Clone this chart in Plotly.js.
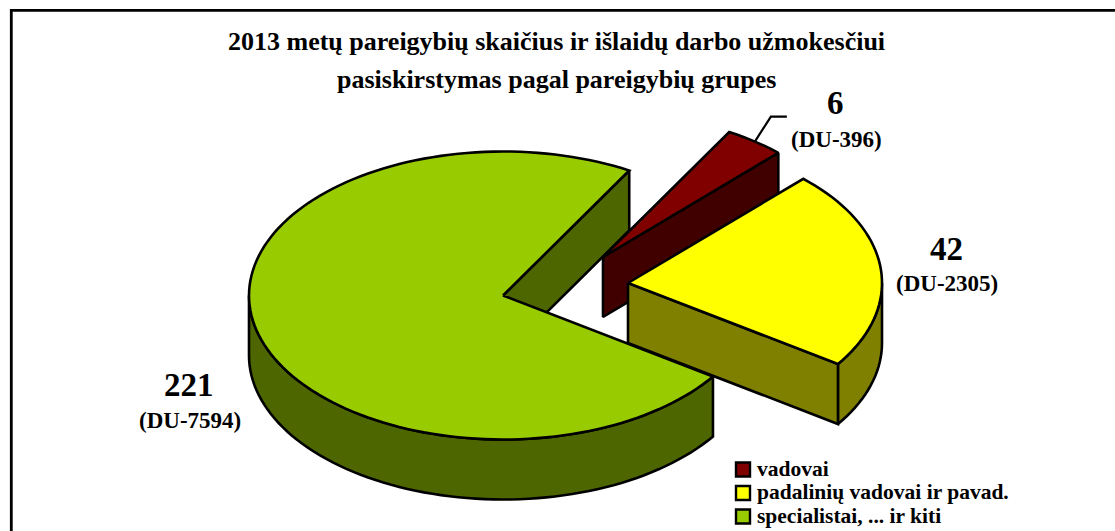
<!DOCTYPE html>
<html><head><meta charset="utf-8">
<script src="https://cdn.plot.ly/plotly-3.0.1.min.js"></script>
<style>html,body{margin:0;padding:0;background:#fff}#c{width:1115px;height:531px}</style>
</head><body><div id="c"></div>
<script>
const categories = ['vadovai', 'padalinių vadovai ir pavad.', 'specialistai, ... ir kiti'];
const positions = [6, 42, 221];
const wages = [396, 2305, 7594];
const topColors = ['#800000', '#FFFF00', '#99CC00'];
const sideColors = ['#400000', '#808000', '#4D6600'];
const titleLines = ['2013 metų pareigybių skaičius ir išlaidų darbo užmokesčiui', 'pasiskirstymas pagal pareigybių grupes'];

// pie geometry (pixel-sized axes)
const RX = 254, RY = 144, DEPTH = 60, START = 60.2;
const centres = [[603, 257], [628, 283], [503, 295.5]];
const total = wages.reduce((a, b) => a + b, 0);
const rad = d => d * Math.PI / 180;
const pt = (c, a, dz = 0) => [c[0] + RX * Math.cos(rad(a)), c[1] - RY * Math.sin(rad(a)) + dz];
function arc(c, a0, a1, dz) { // a0 > a1, clockwise
  const out = [], n = Math.max(2, Math.ceil((a0 - a1) / 2));
  for (let i = 0; i <= n; i++) out.push(pt(c, a0 + (a1 - a0) * i / n, dz));
  return out;
}
const traces = [];
function poly(points, fill) {
  const closed = points.concat([points[0]]);
  traces.push({ type: 'scatter', mode: 'lines', x: closed.map(p => p[0]), y: closed.map(p => p[1]),
    fill: 'toself', fillcolor: fill, line: { color: '#000', width: 2.6, simplify: false, shape: 'linear' },
    hoverinfo: 'skip', showlegend: false });
}
function outerWall(c, a0, a1, fill) {
  poly(arc(c, a0, a1, 0).concat(arc(c, a0, a1, DEPTH).reverse()), fill);
}
function radialWall(c, a, fill) {
  const e = pt(c, a);
  poly([c, e, [e[0], e[1] + DEPTH], [c[0], c[1] + DEPTH]], fill);
}
function topFace(c, a0, a1, fill) { poly([c].concat(arc(c, a0, a1, 0)), fill); }

let a = START;
const spans = wages.map(v => { const s = [a, a - v / total * 360]; a = s[1]; return s; });

// specialists (draw first: red tip overlaps it)
radialWall(centres[2], spans[2][1] + 360, sideColors[2]);
outerWall(centres[2], spans[2][0], -180, sideColors[2]);
topFace(centres[2], spans[2][0], spans[2][1], topColors[2]);
// managers
radialWall(centres[0], spans[0][1], sideColors[0]);
topFace(centres[0], spans[0][0], spans[0][1], topColors[0]);
// department heads
outerWall(centres[1], 0, spans[1][1], sideColors[1]);
radialWall(centres[1], spans[1][1], sideColors[1]);
topFace(centres[1], spans[1][0], spans[1][1], topColors[1]);

// leader line of the small slice
const mid = pt(centres[0], (spans[0][0] + spans[0][1]) / 2);
traces.push({ type: 'scatter', mode: 'lines', x: [mid[0], mid[0] + 16, mid[0] + 32], y: [mid[1], mid[1] - 25, mid[1] - 25],
  line: { color: '#000', width: 2.2 }, hoverinfo: 'skip', showlegend: false });

const serif = 'Liberation Serif, Times New Roman, serif';
const txt = (x, y, text, size, anchor) => ({ xref: 'x', yref: 'y', x, y, text, showarrow: false, xanchor: anchor || 'center', yanchor: 'middle',
  font: { family: serif, size, color: '#000' } });
const b = s => '<b>' + s + '</b>';

// legend swatches + labels
const legendY = [469.5, 493, 516.5];
categories.forEach((name, i) => traces.push({ type: 'scatter', mode: 'markers', x: [743], y: [legendY[i]], name,
  marker: { symbol: 'square', size: 14, color: topColors[i], line: { color: '#000', width: 2.4 } }, hoverinfo: 'skip', showlegend: false }));

const annotations = [
  txt(556, 41, b(titleLines[0]), 26), txt(556, 79, b(titleLines[1]), 26),
  txt(835, 103, b(positions[0]), 33), txt(836, 139, b('(DU-' + wages[0] + ')'), 23),
  txt(946, 249, b(positions[1]), 33), txt(947, 283, b('(DU-' + wages[1] + ')'), 23),
  txt(189, 385, b(positions[2]), 33), txt(190, 420, b('(DU-' + wages[2] + ')'), 23)
].concat(categories.map((name, i) => txt(755, legendY[i] - 1, b(name), 21.5, 'left')));

const layout = {
  width: 1115, height: 531, margin: { l: 0, r: 0, t: 0, b: 0, autoexpand: false }, paper_bgcolor: '#fff', plot_bgcolor: '#fff',
  xaxis: { range: [0, 1115], visible: false, fixedrange: true },
  yaxis: { range: [531, 0], visible: false, fixedrange: true },
  showlegend: false,
  annotations,
  shapes: [{ type: 'rect', xref: 'x', yref: 'y', x0: 11.3, x1: 1130, y0: 10.3, y1: 545, line: { color: '#000', width: 2.8 } }]
};
Plotly.newPlot('c', traces, layout, { displayModeBar: false, staticPlot: true });
</script></body></html>
